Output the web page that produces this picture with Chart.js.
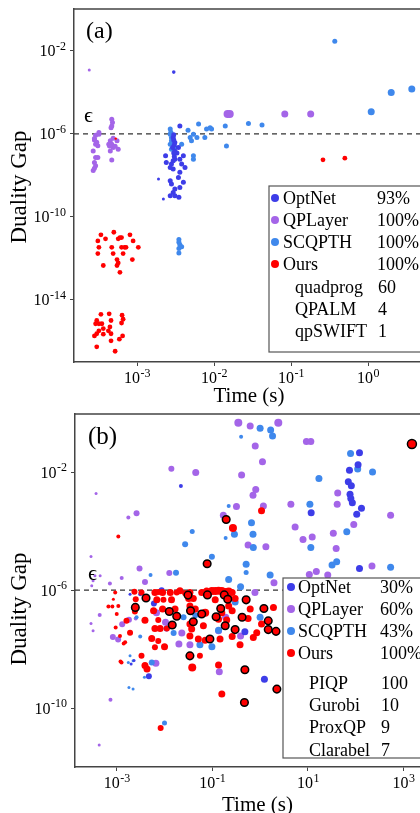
<!DOCTYPE html>
<html>
<head>
<meta charset="utf-8">
<title>Duality gap vs time</title>
<script src="https://cdn.jsdelivr.net/npm/chart.js@4.4.1/dist/chart.umd.min.js"></script>
<style>
	html, body { margin:0; padding:0; background:#fff; width:420px; height:813px; overflow:hidden; }
	canvas { position:absolute; left:0; }
	#chartA { top:0; }
	#chartB { top:400px; }
</style>
</head>
<body>
<canvas id="chartA" width="440" height="410"></canvas>
<canvas id="chartB" width="450" height="420"></canvas>
<script>
// ---- data: [time (s), duality gap] ----
var methods = ["OptNet", "QPLayer", "SCQPTH", "Ours"];
var eps = 1e-6;

// panel (a)
var optnetA = [
	[3.6e-3, 2.4e-6], [2.95e-3, 6.6e-7], [3.1e-3, 3.8e-7], [2.9e-3, 2.2e-7], [3.1e-3, 1.5e-7],
	[2.35e-3, 8.7e-8], [2.4e-3, 4.2e-8], [2.8e-3, 3.5e-8], [2.95e-3, 2e-8], [2.7e-3, 2.4e-8],
	[3.6e-3, 6e-8], [3.8e-3, 3.5e-8], [4.2e-3, 2.4e-8], [4e-3, 8.7e-8], [3.45e-3, 2.2e-7],
	[3.6e-3, 1.4e-8], [3.45e-3, 7.9e-9], [2.7e-3, 5.5e-9], [2.8e-3, 3.8e-9], [4e-3, 4.6e-9],
	[3.6e-3, 2.6e-9], [3.1e-3, 2.2e-9], [2.95e-3, 1.5e-9], [2.7e-3, 1.05e-9], [3.1e-3, 1.05e-9],
	[3.5e-3, 8.7e-10], [3.1e-3, 6e-8], [3.3e-3, 1.2e-7], [3e-3, 9e-7], [3e-3, 5e-7],
	[3.05e-3, 3e-7], [3e-3, 1.2e-7], [3.05e-3, 8e-8], [2.95e-3, 5e-8],
	[1.9e-3, 6.6e-9], [2.2e-3, 7.2e-10], [3e-3, 9.5e-4]
];
var qplayerA = [
	[2.9e-4, 8.5e-7], [3.2e-4, 9.6e-7], [3.2e-4, 1.15e-6], [2.8e-4, 5e-7], [2.9e-4, 3.2e-7],
	[3.1e-4, 2.7e-7], [2.7e-4, 1.5e-7], [2.9e-4, 7.2e-8], [3.1e-4, 7.2e-8], [2.8e-4, 4.2e-8],
	[2.9e-4, 2.9e-8], [2.7e-4, 1.7e-8], [2.8e-4, 6e-7], [3e-4, 4e-7], [2.8e-4, 2.2e-8],
	[4.7e-4, 5.1e-6], [4.8e-4, 3.5e-6], [4.7e-4, 2.4e-6], [4.6e-4, 2e-6], [4.9e-4, 6.2e-7],
	[4.5e-4, 4.6e-7], [4.7e-4, 3.2e-7], [4.3e-4, 3.2e-7], [4.9e-4, 2.2e-7], [4.5e-4, 1.5e-7],
	[5.5e-4, 4.6e-7], [5.7e-4, 1.8e-7], [4.7e-4, 5.5e-8], [5.2e-4, 2.5e-7], [4.4e-4, 2.6e-7],
	[2.4e-4, 1.2e-3], [1.5e-2, 9e-6], [1.6e-2, 9e-6], [8.3e-2, 9e-6], [0.18, 9e-6]
];
var scqpthA = [
	[2.7e-3, 1.7e-6], [2.75e-3, 1.2e-6], [2.7e-3, 9.6e-7], [2.8e-3, 6.5e-7], [2.8e-3, 4.6e-7],
	[2.7e-3, 3.2e-7], [2.8e-3, 1.8e-7], [3.1e-3, 2.2e-7], [3.8e-3, 3.2e-7], [4.6e-3, 1.5e-6],
	[4.9e-3, 6.6e-7], [5.4e-3, 9.6e-7], [5.1e-3, 4.6e-7], [6e-3, 6.6e-7], [6.3e-3, 3e-6],
	[7.6e-3, 6.6e-7], [8e-3, 1.7e-6], [8.9e-3, 2e-6], [9.3e-3, 1.7e-6], [1.4e-2, 2.4e-6],
	[1.45e-2, 2.6e-7], [5.4e-3, 8.7e-8], [5.4e-3, 6e-8], [2.8e-2, 3.2e-6], [4.2e-2, 2.7e-6],
	[3.5e-3, 8e-12], [3.5e-3, 6e-12], [3.6e-3, 4.5e-12], [3.5e-3, 3e-12], [3.8e-3, 3.6e-12],
	[3.5e-3, 1.8e-12], [0.37, 2.9e-2], [1.1, 1.15e-5], [2.0, 1e-4], [3.7, 1.45e-4]
];
var oursA = [
	[3.4e-4, 1.35e-11], [5e-4, 1.8e-11], [3.9e-4, 8.7e-12], [3.1e-4, 6.9e-12], [3.2e-4, 3.4e-12],
	[3.1e-4, 1.7e-12], [6e-4, 1e-11], [5.7e-4, 8.7e-12], [6.3e-4, 1e-11], [8.1e-4, 1.35e-11],
	[8.9e-4, 6.9e-12], [1.04e-3, 3.4e-12], [4.7e-4, 3.4e-12], [6.3e-4, 3.4e-12], [6.9e-4, 3.4e-12],
	[7.2e-4, 3.4e-12], [4.9e-4, 1.7e-12], [6.6e-4, 1.7e-12], [5.5e-4, 8.7e-13], [5.7e-4, 6e-13],
	[5.5e-4, 4.5e-13], [6e-4, 2.1e-13], [3.65e-4, 4.5e-13], [8.7e-4, 8.7e-13],
	[3.4e-4, 2e-15], [4.35e-4, 2.1e-15], [6.4e-4, 1.8e-15], [6.6e-4, 1.15e-15], [6.3e-4, 7.6e-16],
	[4.6e-4, 1e-15], [3e-4, 1e-15], [2.9e-4, 7e-16], [3.2e-4, 7e-16], [3.5e-4, 7e-16],
	[4.45e-4, 4.9e-16], [3.65e-4, 4.1e-16], [3.2e-4, 3.2e-16], [3e-4, 2.3e-16], [3.65e-4, 2.2e-16],
	[4.6e-4, 2.3e-16], [4.25e-4, 3.2e-16], [6.5e-4, 1.8e-16], [5.9e-4, 1.26e-16], [4.6e-4, 1.05e-16],
	[3e-4, 5.4e-17], [5.2e-4, 3.3e-17], [2.8e-4, 1.8e-16],
	[0.26, 5.6e-8], [0.5, 6.7e-8], [5.3e-4, 5.9e-7]
];
var successA = ["93%", "100%", "100%", "100%"];
var solversA = ["quadprog", "QPALM", "qpSWIFT"];
var solverCountA = [60, 4, 1];
var xTicksA = [1e-3, 1e-2, 1e-1, 1];
var yTicksA = [1e-2, 1e-6, 1e-10, 1e-14];

// panel (b)
var optnetB = [
	[0.022, 3.4e-3], [120, 0.046], [112, 0.018], [74, 0.0117], [70, 4.8e-3],
	[81, 3.5e-3], [76, 1.8e-3], [79, 1.3e-3], [85, 9.3e-4], [132, 6e-4],
	[105, 3.8e-4], [11.7, 4.2e-4], [120, 5.4e-6], [8.7e-3, 1e-6], [6e-3, 3.5e-7],
	[0.011, 5e-8], [3.1e-3, 7.3e-7], [4.7e-3, 1.2e-9], [1.23, 9.5e-10], [0.48, 3.9e-8],
	[2.3e-3, 4.1e-9], [2e-3, 3.1e-9], [1.9e-3, 7.3e-7]
];
var qplayerB = [
	[0.35, 0.48], [0.62, 0.37], [2.4, 0.48], [0.79, 0.078], [1.12, 0.023],
	[0.41, 8.1e-3], [0.0139, 0.0132], [0.045, 9.8e-3], [0.81, 2.6e-3], [0.71, 1.66e-3],
	[0.32, 6.9e-4], [1.17, 7.2e-4], [0.17, 3.5e-4], [2.6e-3, 4.1e-4], [1.75e-3, 2.9e-4],
	[3.7e-4, 1.9e-3], [0.56, 3.4e-5], [1.32, 3e-5], [2.9e-4, 1.4e-5], [3e-3, 5.4e-6],
	[3.9e-3, 1.9e-6], [0.0126, 3.8e-6], [1.27e-3, 2.6e-6], [7.2e-4, 1.7e-6], [4.5e-4, 3.1e-6],
	[3.5e-4, 3.1e-6], [1.95, 1.8e-6], [3e-4, 1.4e-6], [9.3, 0.11], [11.5, 0.11],
	[4.4, 8.3e-4], [42, 2e-3], [41, 8.3e-4], [537, 3.5e-4], [5.4, 1.4e-4],
	[91, 1.7e-4], [7.9, 5.2e-5], [12.3, 6.4e-5], [34, 8.5e-5], [39, 2.6e-5],
	[219, 6.6e-6], [15, 4.3e-6], [10.7, 3.4e-6], [26, 3.3e-6], [4.4e-4, 1.45e-7],
	[2.9e-4, 7.4e-8], [3.2e-4, 4.2e-8], [8.3e-4, 2.6e-8], [1.07e-3, 2.1e-8], [1.3e-3, 7e-8],
	[1.8e-3, 1e-7], [2.5e-3, 1.1e-7], [6.8e-3, 1.7e-7], [0.0105, 8.1e-8], [0.023, 3.5e-8],
	[0.02, 1.5e-8], [0.034, 1.4e-8], [6.6e-3, 3.3e-9], [0.14, 1.7e-9], [0.19, 1.2e-7],
	[0.39, 2.8e-8], [0.135, 4.2e-8], [0.78, 8.3e-7], [7.4e-4, 1.9e-10], [4.3e-4, 5.6e-12],
	[3.2e-4, 2.1e-6]
];
var scqpthB = [
	[1.0, 0.31], [1.66, 0.27], [1.82, 0.17], [0.4, 0.16], [0.22, 7.2e-4],
	[0.66, 1.95e-4], [0.71, 7.9e-5], [0.72, 2.8e-5], [0.29, 7.9e-5], [0.19, 5.9e-5],
	[0.038, 9.8e-5], [0.027, 3.6e-5], [0.098, 1.35e-5], [0.51, 7.6e-6], [0.51, 4e-6],
	[0.0174, 3.9e-6], [5.1e-3, 3.3e-6], [0.22, 2.3e-6], [0.39, 1.3e-6], [1.62, 3.3e-6],
	[78, 0.043], [110, 0.013], [225, 0.0102], [17, 6.2e-3], [11, 8.3e-4],
	[65, 9.6e-5], [11.5, 2.8e-5], [32, 7.2e-6], [40, 9.3e-6], [537, 6e-6],
	[0.3, 4e-7], [0.135, 4.4e-8], [0.055, 1.4e-8], [0.098, 1.2e-8], [0.025, 1.2e-7],
	[0.0155, 3.5e-8], [0.044, 1.4e-7], [1.0, 1.2e-7], [5.4e-3, 3.5e-9], [2.6e-3, 1.2e-7],
	[3.1e-3, 2.7e-8], [1.9e-3, 5.9e-9], [2.2e-3, 4e-9], [1.75e-3, 3.5e-9], [3.8e-3, 1.1e-9],
	[1.8e-3, 5e-10], [2.2e-3, 4.4e-10], [0.01, 3.1e-11], [0.057, 1.45e-7]
];
var oursB = [
	[2.35e-3, 8.9e-7], [3.3e-3, 8.3e-7], [6.3e-3, 8.3e-7], [9.1e-3, 8.3e-7], [0.0132, 8.3e-7],
	[0.018, 8.3e-7], [0.027, 7.9e-7], [0.034, 8.3e-7], [0.06, 8.3e-7], [0.076, 9.3e-7],
	[0.098, 9.3e-7], [0.115, 9.3e-7], [0.135, 9.5e-7], [0.158, 9.3e-7], [0.186, 8.7e-7],
	[0.26, 8.3e-7], [2.5e-3, 4.9e-7], [6.9e-3, 4.7e-7], [9.5e-3, 4.7e-7], [0.014, 4.7e-7],
	[0.032, 5.2e-7], [0.04, 5.2e-7], [0.115, 4.7e-7], [0.22, 5.6e-7], [0.3, 5.2e-7],
	[5.9e-3, 2e-7], [9.1e-3, 2.3e-7], [0.0166, 2.3e-7], [0.034, 2.9e-7], [0.044, 2.3e-7],
	[0.071, 1.7e-7], [0.158, 1.7e-7], [0.22, 2.9e-7], [0.26, 2e-7], [0.62, 2.3e-7],
	[1.9, 2.6e-7], [3.9e-3, 9.5e-8], [7.4e-3, 9.8e-8], [6.3e-3, 5e-8], [8.1e-3, 5e-8],
	[0.0112, 5e-8], [0.034, 7.1e-8], [0.037, 4.8e-8], [0.065, 6.2e-8], [0.135, 1.04e-7],
	[0.2, 9.8e-8], [0.56, 1.1e-7], [0.85, 3.6e-8], [0.72, 2.5e-8], [5.4e-3, 2.3e-8],
	[7.4e-3, 1.9e-8], [0.01, 1.2e-8], [6.3e-3, 1.15e-8], [3.3e-3, 5.9e-9], [0.034, 2.8e-8],
	[0.051, 2.2e-8], [0.071, 2e-8], [0.145, 2.2e-8], [0.26, 2.7e-8], [0.38, 1.4e-8],
	[3.9e-3, 2.8e-9], [4.3e-3, 2.1e-9], [0.038, 2.4e-9], [0.055, 5.9e-9], [0.135, 2.9e-9],
	[9.3e-4, 8.3e-7], [1.08e-3, 2.9e-7], [2.4e-3, 1.9e-7], [1.6e-3, 9.1e-8], [1.9e-3, 3.6e-8],
	[1.17e-3, 2.8e-8], [1.5e-3, 1.7e-8], [9.5e-4, 5.4e-8], [6.7e-4, 2.8e-7], [8.1e-4, 2.8e-7],
	[1e-3, 1.55e-7], [1.26e-3, 3.5e-9], [1.07, 7.1e-8], [8.5e-4, 4.9e-7], [1.4e-3, 1.55e-8],
	[0.158, 3e-10], [8.3e-3, 2.1e-11], [1.08e-3, 6.6e-5], [0.27, 1.29e-4], [1.07, 5e-4],
	[1.2e-3, 3.8e-9], [0.021, 9.5e-7], [7.6e-3, 8.7e-7], [0.22, 9e-7]
];
// Ours, instances marked with a black ring
var oursRingB = [
	[0.195, 2.5e-4], [0.078, 7.9e-6], [1500, 0.091], [4.1e-3, 5.4e-7], [2.45e-3, 2.6e-7],
	[0.0126, 1.9e-7], [0.018, 1.3e-7], [0.0145, 6.6e-8], [0.035, 2e-7], [0.04, 8.5e-8],
	[0.06, 1.55e-7], [0.031, 6.8e-7], [0.079, 6.9e-7], [0.178, 6.9e-7], [0.21, 4.9e-7],
	[0.15, 2.4e-7], [0.12, 1.26e-7], [0.186, 6.2e-8], [0.3, 4.6e-8], [0.42, 1.2e-7],
	[0.51, 4.7e-7], [1.2, 2.4e-7], [1.48, 9.1e-8], [1.48, 4.6e-8], [2.15, 4e-8],
	[0.089, 2.2e-8], [0.034, 5.9e-9], [0.48, 2e-9], [2.24, 4.4e-10], [0.47, 1.55e-10]
];
var successB = ["30%", "60%", "43%", "100%"];
var solversB = ["PIQP", "Gurobi", "ProxQP", "Clarabel"];
var solverCountB = [100, 10, 9, 7];
var xTicksB = [1e-3, 1e-1, 10, 1000];
var yTicksB = [1e-2, 1e-6, 1e-10];

// ---- styles ----
var colors = ["#3d3de8", "#a465e8", "#3f88ec", "#ff0000"];
var serif = "'Liberation Serif', 'Times New Roman', 'DejaVu Serif', serif";

// marker radius, panel (a): default + a few odd ones (by index)
var sizeA = {
	optnet: [2.5, {34: 1.5, 35: 1.5, 36: 1.8}],
	qplayer: [2.5, {30: 1.5, 31: 4, 32: 4, 33: 3.5, 34: 3.5}],
	scqpth: [2.5, {31: 2.5, 32: 3.5, 33: 3.5, 34: 3.5}],
	ours: [2.4, {49: 1.2}]
};
// marker radius, panel (b)
var rOptnetB = [2, 3.5, 3.5, 3.5, 3.5, 3.5, 3.5, 3.5, 3.5, 3.5, 3.5, 3.5, 3.5, 3, 3, 3, 2, 3, 3.5, 3.5, 1.5, 1.5, 1.5];
var rQplayerB = [4, 3.5, 4, 3.5, 3.5, 3.5, 3, 3.5, 3.5, 3.5,
	3.5, 3.5, 3.5, 3, 2, 1.5, 3.5, 3.5, 1.5, 3,
	3, 3, 2, 2, 1.5, 1.5, 3.5, 1.5, 3.5, 3.5,
	3.5, 3.5, 3.5, 3.5, 3.5, 3.5, 3.5, 3.5, 3.5, 3.5,
	3.5, 3.5, 3.5, 3.5, 2, 1.5, 1.5, 3, 3, 3,
	3, 2, 3.5, 3.5, 3.5, 3.5, 3.5, 3.5, 3.5, 3.5,
	3.5, 3.5, 3.5, 2, 1.5, 1.5];
var rScqpthB = [3.5, 3.5, 3.5, 2, 2, 3.5, 3.5, 3.5, 3.5, 2,
	2.5, 3, 3, 3.5, 2.5, 3, 2, 3.5, 3.5, 3.5,
	3.5, 3.5, 3.5, 3.5, 3.5, 3.5, 3.5, 3.5, 3.5, 3.5,
	3.5, 3.5, 3.5, 3.5, 3, 3, 3, 3.5, 3, 2,
	2, 1.5, 1.5, 1.5, 1.5, 1.5, 1.5, 2.5, 3];
var rOursB = [3, 3, 3.5, 3.5, 3.5, 3, 3, 3.5, 3.5, 3.5,
	4, 4, 4, 4, 4, 3.5, 3, 3.5, 3, 3.5,
	3.5, 3.5, 3.5, 3.5, 3.5, 3.5, 3.5, 3.5, 3.5, 3.5,
	4, 3.5, 3.5, 3.5, 3.5, 3.5, 3.5, 3, 3.5, 3.5,
	3, 3.5, 3.5, 3.5, 3.5, 3.5, 3.5, 3.5, 3.5, 3.5,
	3, 3.5, 3, 3, 3.5, 3.5, 3.5, 3.5, 3.5, 3.5,
	3.5, 3.5, 4, 3, 3.5, 2, 2, 3, 3, 3,
	2, 2, 2, 2, 2, 2, 2, 3.5, 1.5, 2,
	3.5, 3, 2, 4, 3.5, 2, 3.5, 3, 4];

function pts(list) {
	return list.map(function(p) { return {x: p[0], y: p[1]}; });
}

function radii(list, spec) {
	return list.map(function(p, i) { return spec[1][i] !== undefined ? spec[1][i] : spec[0]; });
}

function expOf(v) {
	return String(Math.round(Math.log10(v)));
}

// "10" with a raised exponent
function powLabel(ctx, exp, x, base, align) {
	ctx.font = "16px " + serif;
	var w1 = ctx.measureText("10").width;
	ctx.font = "12px " + serif;
	var w2 = ctx.measureText(exp).width;
	var x0 = align == "right" ? x - w1 - w2 - 0.5 : x - (w1 + w2) / 2;
	ctx.font = "16px " + serif;
	ctx.fillText("10", x0, base);
	ctx.font = "12px " + serif;
	ctx.fillText(exp, x0 + w1 + 0.5, base - 6.5);
}

var decor = {
	id: 'decor',
	beforeDatasetsDraw: function(chart, args, o) {
		var ctx = chart.ctx, a = chart.chartArea;
		var y = chart.scales.y.getPixelForValue(eps);
		ctx.save();
		ctx.strokeStyle = "#333";
		ctx.lineWidth = 1.3;
		ctx.setLineDash([5, 4]);
		ctx.beginPath();
		ctx.moveTo(a.left, y);
		ctx.lineTo(a.right, y);
		ctx.stroke();
		ctx.restore();
	},
	afterDraw: function(chart, args, o) {
		var ctx = chart.ctx, a = chart.chartArea;
		var sx = chart.scales.x, sy = chart.scales.y;
		ctx.save();
		ctx.strokeStyle = "#444";
		ctx.lineWidth = 1.5;
		ctx.beginPath();
		ctx.moveTo(a.left, a.top);
		ctx.lineTo(a.right, a.top);
		ctx.lineTo(a.right, a.bottom);
		ctx.stroke();

		ctx.fillStyle = "#000";
		ctx.textBaseline = "alphabetic";
		ctx.textAlign = "left";
		o.yTicks.forEach(function(v) {
			powLabel(ctx, expOf(v), a.left - 8, sy.getPixelForValue(v) + 5.5, "right");
		});
		o.xTicks.forEach(function(v) {
			powLabel(ctx, expOf(v), sx.getPixelForValue(v), a.bottom + 21, "center");
		});

		// axis titles
		ctx.font = "21px " + serif;
		ctx.textAlign = "center";
		ctx.fillText("Time (s)", o.xTitle[0], o.xTitle[1]);
		ctx.save();
		ctx.translate(o.yTitle[0], o.yTitle[1]);
		ctx.rotate(-Math.PI / 2);
		ctx.font = "23px " + serif;
		ctx.fillText("Duality Gap", 0, 0);
		ctx.restore();

		// panel tag and epsilon
		ctx.textAlign = "left";
		ctx.font = o.tag[3] + "px " + serif;
		ctx.fillText(o.tag[0], o.tag[1], o.tag[2]);
		ctx.font = "22px " + serif;
		ctx.fillText("\u03f5", o.epsAt[0], o.epsAt[1]);

		// key box
		var k = o.key;
		ctx.fillStyle = "#fff";
		ctx.fillRect(k.left, k.top, k.right - k.left, k.bottom - k.top);
		ctx.strokeStyle = "#555";
		ctx.lineWidth = 1.2;
		ctx.strokeRect(k.left, k.top, k.right - k.left, k.bottom - k.top);
		ctx.font = "18px " + serif;
		for (var i = 0; i < methods.length; i++) {
			ctx.fillStyle = colors[i];
			ctx.beginPath();
			ctx.arc(k.dotX, k.rows[i], 4, 0, 2 * Math.PI);
			ctx.fill();
			ctx.fillStyle = "#000";
			ctx.fillText(methods[i], k.textX, k.rows[i] + 6);
			ctx.fillText(k.success[i], k.pctX, k.rows[i] + 6);
		}
		for (var j = 0; j < k.solvers.length; j++) {
			var r = k.rows[methods.length + j] + 6;
			ctx.fillText(k.solvers[j], k.solverX, r);
			ctx.fillText(String(k.counts[j]), k.countX, r);
		}
		ctx.restore();
	}
};

function logAxis(min, max, ticks, size, isX) {
	return {
		type: 'logarithmic',
		min: min,
		max: max,
		bounds: 'data',
		afterBuildTicks: function(s) { s.ticks = ticks.map(function(v) { return {value: v}; }); },
		afterFit: function(s) { if (isX) s.height = size; else s.width = size; },
		ticks: { display: false },
		grid: { display: true, drawOnChartArea: false, drawTicks: true, tickLength: 4, color: "#444", lineWidth: 1 },
		border: { display: true, color: "#444", width: 1.5 }
	};
}

function scatterSet(label, data, color, radius, order) {
	return {
		label: label,
		data: data,
		backgroundColor: color,
		borderColor: color,
		pointRadius: radius,
		pointBorderWidth: 0,
		order: order
	};
}

function makeChart(id, sets, xr, yr, pad, axisSize, deco) {
	return new Chart(document.getElementById(id), {
		type: 'scatter',
		data: { datasets: sets },
		options: {
			responsive: false,
			animation: false,
			events: [],
			layout: { autoPadding: false, padding: pad },
			plugins: { legend: { display: false }, tooltip: { enabled: false }, decor: deco },
			scales: {
				x: logAxis(xr[0], xr[1], deco.xTicks, axisSize[0], true),
				y: logAxis(yr[0], yr[1], deco.yTicks, axisSize[1], false)
			}
		},
		plugins: [decor]
	});
}

makeChart("chartA", [
	scatterSet(methods[1], pts(qplayerA), colors[1], radii(qplayerA, sizeA.qplayer), 4),
	scatterSet(methods[2], pts(scqpthA), colors[2], radii(scqpthA, sizeA.scqpth), 3),
	scatterSet(methods[0], pts(optnetA), colors[0], radii(optnetA, sizeA.optnet), 2),
	scatterSet(methods[3], pts(oursA), colors[3], radii(oursA, sizeA.ours), 1)
], [1.52e-4, 5.33], [1e-17, 1.05], {top: 9, right: 16, bottom: 0, left: 0}, [48, 74], {
	xTicks: xTicksA, yTicks: yTicksA,
	xTitle: [249, 402], yTitle: [26, 187],
	tag: ["(a)", 86, 38, 24], epsAt: [84, 122],
	key: { left: 269, top: 186, right: 436, bottom: 352, dotX: 275, textX: 283, pctX: 377,
		solverX: 295, countX: 378, rows: [198, 220, 242, 264, 287, 309, 331],
		success: successA, solvers: solversA, counts: solverCountA }
});

var ring = scatterSet("Ours", pts(oursRingB), colors[3], oursRingB.map(function(p) { return p[0] > 100 ? 4.5 : 3.8; }), 0);
ring.borderColor = "#000";
ring.pointBorderWidth = 1.5;

makeChart("chartB", [
	scatterSet(methods[1], pts(qplayerB), colors[1], rQplayerB, 4),
	scatterSet(methods[2], pts(scqpthB), colors[2], rScqpthB, 3),
	scatterSet(methods[0], pts(optnetB), colors[0], rOptnetB, 2),
	scatterSet(methods[3], pts(oursB), colors[3], rOursB, 1),
	ring
], [1.34e-4, 5800], [1e-12, 0.95], {top: 14, right: 10, bottom: 0, left: 0}, [53, 75], {
	xTicks: xTicksB, yTicks: yTicksB,
	xTitle: [257.5, 411], yTitle: [26, 209],
	tag: ["(b)", 88, 44, 25], epsAt: [88, 180],
	key: { left: 283, top: 178, right: 446, bottom: 358, dotX: 291, textX: 298, pctX: 380,
		solverX: 309, countX: 381, rows: [187, 209, 231, 253, 283, 305, 327, 350],
		success: successB, solvers: solversB, counts: solverCountB }
});
</script>
</body>
</html>
